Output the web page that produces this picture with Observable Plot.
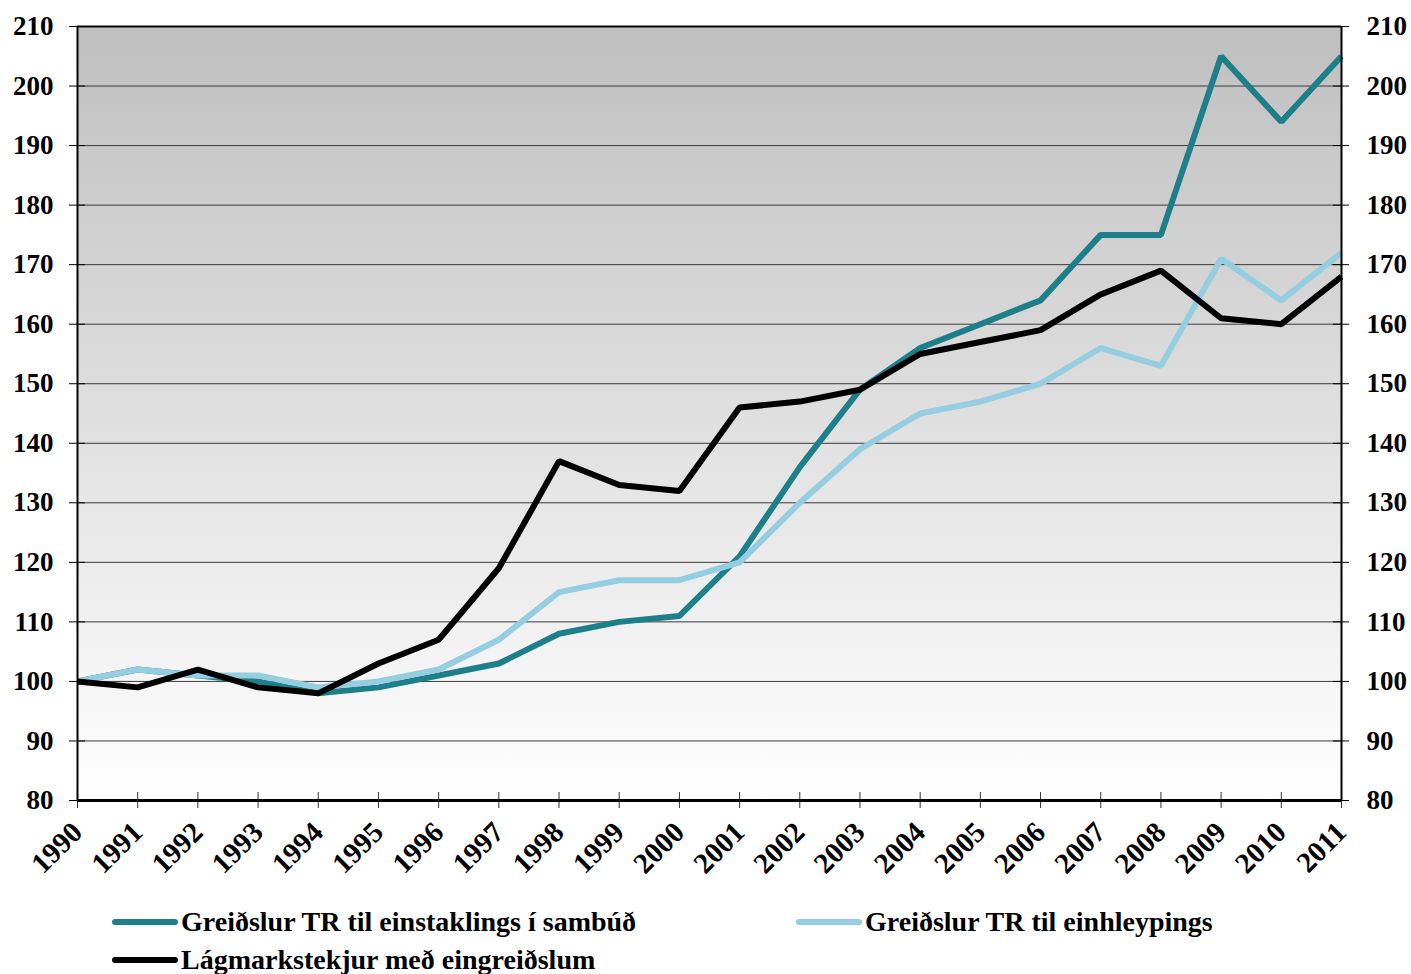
<!DOCTYPE html>
<html><head><meta charset="utf-8">
<script src="https://cdn.jsdelivr.net/npm/d3@7"></script>
<script src="https://cdn.jsdelivr.net/npm/@observablehq/plot@0.6"></script>
<style>
body{margin:0;background:#fff;font-family:"Liberation Serif","Times New Roman",serif;}
#chart{height:890px;}
#legend{position:relative;height:84px;font-weight:bold;font-size:28px;color:#000;}
.item{position:absolute;display:flex;align-items:center;height:32px;transform:translateY(-50%);white-space:nowrap;}
.sw{width:66px;height:6px;border-radius:3px;margin-right:3px;}
</style></head><body><div id="chart"></div><div id="legend"></div>
<script>
const years = [1990,1991,1992,1993,1994,1995,1996,1997,1998,1999,2000,2001,2002,2003,2004,2005,2006,2007,2008,2009,2010,2011];
const sambud = [100,102,101,100,98,99,101,103,108,110,111,121,136,149,156,160,164,175,175,205,194,205];
const einhleypings = [100,102,101,101,99,100,102,107,115,117,117,120,130,139,145,147,150,156,153,171,164,172];
const lagmark = [100,99,102,99,98,103,107,119,137,133,132,146,147,149,155,157,159,165,169,161,160,168];
const seriesNames = ["Greiðslur TR til einstaklings í sambúð","Greiðslur TR til einhleypings","Lágmarkstekjur með eingreiðslum"];
const seriesColors = ["#1d7f8a","#94cee0","#000000"];
const yTicks = [80,90,100,110,120,130,140,150,160,170,180,190,200,210];

const allSeries = [sambud, einhleypings, lagmark];
const data = [];
allSeries.forEach((vals, i) => years.forEach((yr, j) => data.push({year: yr, value: vals[j], series: seriesNames[i]})));

const plot = Plot.plot({
  width: 1411, height: 890,
  marginLeft: 77, marginRight: 70, marginTop: 26, marginBottom: 90,
  style: {fontFamily: "'Liberation Serif', 'Times New Roman', serif", fontWeight: "bold", fontSize: "27px", color: "#000", background: "transparent"},
  x: {domain: [1990, 2011], label: null},
  y: {domain: [80, 210], label: null},
  color: {domain: seriesNames, range: seriesColors},
  marks: [
    Plot.frame({fill: "url(#bg)", stroke: null}),
    Plot.gridY(yTicks, {stroke: "#3a3a3a", strokeOpacity: 1, strokeWidth: 1}),
    Plot.line(data, {x: "year", y: "value", stroke: "series", strokeWidth: 6, strokeLinejoin: "miter", strokeLinecap: "butt"}),
    Plot.ruleY([210], {stroke: "#000", strokeWidth: 2}),
    Plot.ruleX(years, {y1: 80, y2: 80, insetTop: 8, insetBottom: 8, stroke: "#333", strokeWidth: 1}),
    Plot.ruleY(yTicks, {x1: 1990, x2: 1990, insetLeft: 8, insetRight: 8, stroke: "#000", strokeWidth: 1}),
    Plot.ruleY(yTicks, {x1: 2011, x2: 2011, insetLeft: 8, insetRight: 8, stroke: "#000", strokeWidth: 1}),
    Plot.ruleX([1990, 2011], {stroke: "#000", strokeWidth: 2}),
    Plot.ruleY([80], {stroke: "#000", strokeWidth: 3}),
    Plot.axisY(yTicks, {anchor: "left", tickSize: 0, tickPadding: 24, label: null, tickFormat: d => String(d), fontSize: 27}),
    Plot.axisY(yTicks, {anchor: "right", tickSize: 0, tickPadding: 25, label: null, tickFormat: d => String(d), fontSize: 27}),
    Plot.axisX(years, {anchor: "bottom", tickSize: 0, tickPadding: 27, tickRotate: -45, label: null, tickFormat: d => String(d), fontSize: 29})
  ]
});

const svgNS = "http://www.w3.org/2000/svg";
const defs = document.createElementNS(svgNS, "defs");
defs.innerHTML = '<linearGradient id="bg" x1="0" y1="0" x2="0" y2="1"><stop offset="0" stop-color="#bfbfbf"/><stop offset="1" stop-color="#ffffff"/></linearGradient>';
plot.insertBefore(defs, plot.firstChild);
document.getElementById("chart").appendChild(plot);

const legend = document.getElementById("legend");
const positions = [[112, 32], [796, 32], [112, 70]];
seriesNames.forEach((name, i) => {
  const it = document.createElement("div");
  it.className = "item";
  it.style.left = positions[i][0] + "px";
  it.style.top = positions[i][1] + "px";
  const sw = document.createElement("span");
  sw.className = "sw";
  sw.style.background = seriesColors[i];
  const tx = document.createElement("span");
  tx.textContent = name;
  it.appendChild(sw); it.appendChild(tx);
  legend.appendChild(it);
});
</script>
</body></html>
